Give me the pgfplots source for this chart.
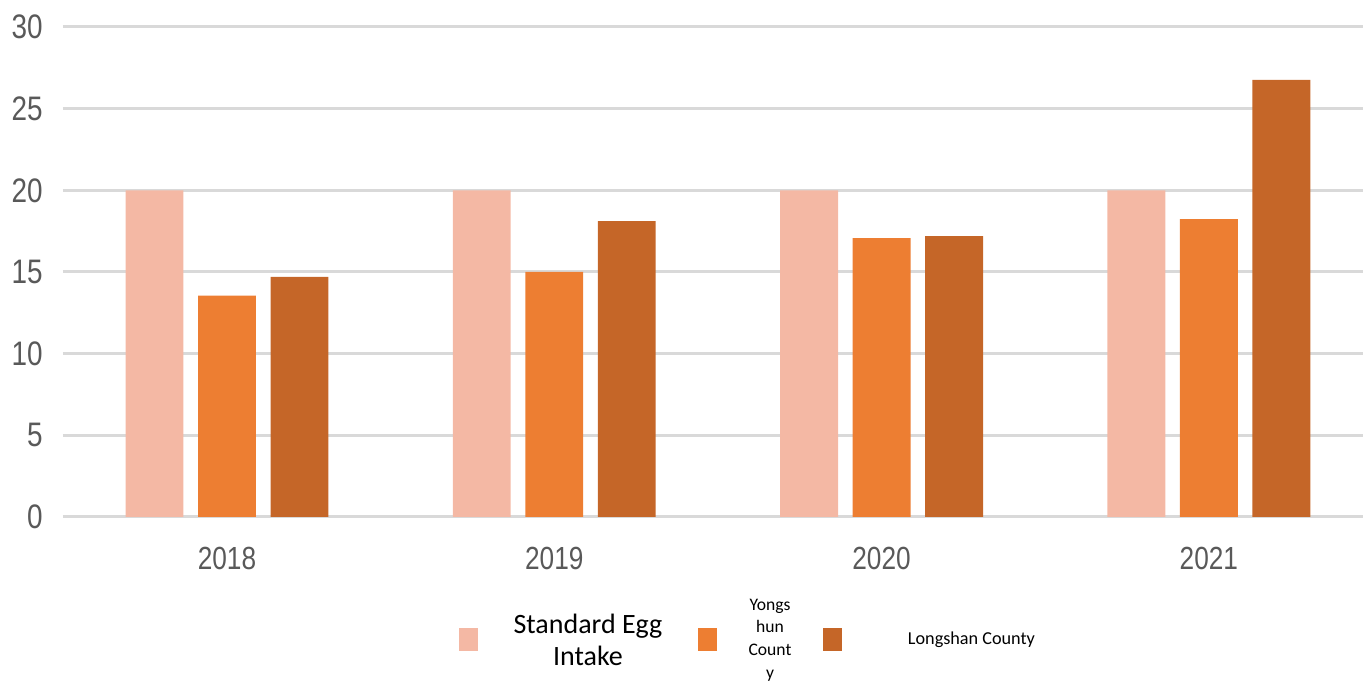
\documentclass[border=0pt]{standalone}
\usepackage{fontspec}
\setmainfont{Liberation Sans}
\newfontfamily\ticklbl[FakeStretch=0.82]{Liberation Sans}
\newfontfamily\legfont{Carlito}
\usepackage{pgfplots}
\pgfplotsset{compat=1.18}
\definecolor{cStd}{RGB}{244,184,164}
\definecolor{cYong}{RGB}{237,126,50}
\definecolor{cLong}{RGB}{197,102,40}
\definecolor{gridc}{RGB}{217,217,217}
\definecolor{tickc}{RGB}{89,89,89}
\begin{document}
\begin{tikzpicture}
\useasboundingbox (0,0) rectangle (681.5pt,341.5pt);
\begin{axis}[
  at={(31.5pt,83pt)}, anchor=south west,
  scale only axis, width=650pt, height=245pt,
  xmin=-0.501, xmax=3.471, ymin=0, ymax=30,
  axis line style={draw=none},
  major tick length=0pt,
  ytick={0,5,10,15,20,25,30},
  xtick={0,1,2,3},
  xticklabels={2018,2019,2020,2021},
  ymajorgrids,
  major grid style={gridc, line width=1.5pt},
  /pgf/number format/assume math mode=true,
  yticklabel style={font=\ticklbl\fontsize{17}{17}\selectfont, text=tickc, anchor=east, inner sep=0pt, xshift=-10pt},
  xticklabel style={font=\ticklbl\fontsize{16}{16}\selectfont, text=tickc, anchor=base, inner sep=0pt, yshift=-26.5pt},
  ybar, bar width=0.177,
  legend image code/.code={\fill[#1] (0pt,-5.75pt) rectangle (9.5pt,5.75pt);},
  legend columns=3,
  legend style={draw=none, fill=none, inner sep=0pt, outer sep=0pt,
    column sep=0pt, row sep=0pt,
    nodes={inner sep=0pt, outer sep=0pt, text depth=, anchor=center},
    at={(0.3046,-0.251)}, anchor=west, font=\legfont},
]
\addplot[fill=cStd, draw=none, bar shift=-0.2215] coordinates {(0,20) (1,20) (2,20) (3,20)};
\addplot[fill=cYong, draw=none, bar shift=0] coordinates {(0,13.55) (1,15.0) (2,17.07) (3,18.23)};
\addplot[fill=cLong, draw=none, bar shift=0.2215] coordinates {(0,14.7) (1,18.12) (2,17.2) (3,26.76)};
\legend{{\parbox[c]{110pt}{\centering\fontsize{14}{16}\selectfont Standard Egg\\Intake}},
        {\parbox[c]{53pt}{\centering\fontsize{8.8}{11.3}\selectfont Yongs\\hun\\Count\\y}},
        {\parbox[c]{129.5pt}{\centering\fontsize{9.1}{11}\selectfont Longshan County}}}
\end{axis}
\end{tikzpicture}
\end{document}
